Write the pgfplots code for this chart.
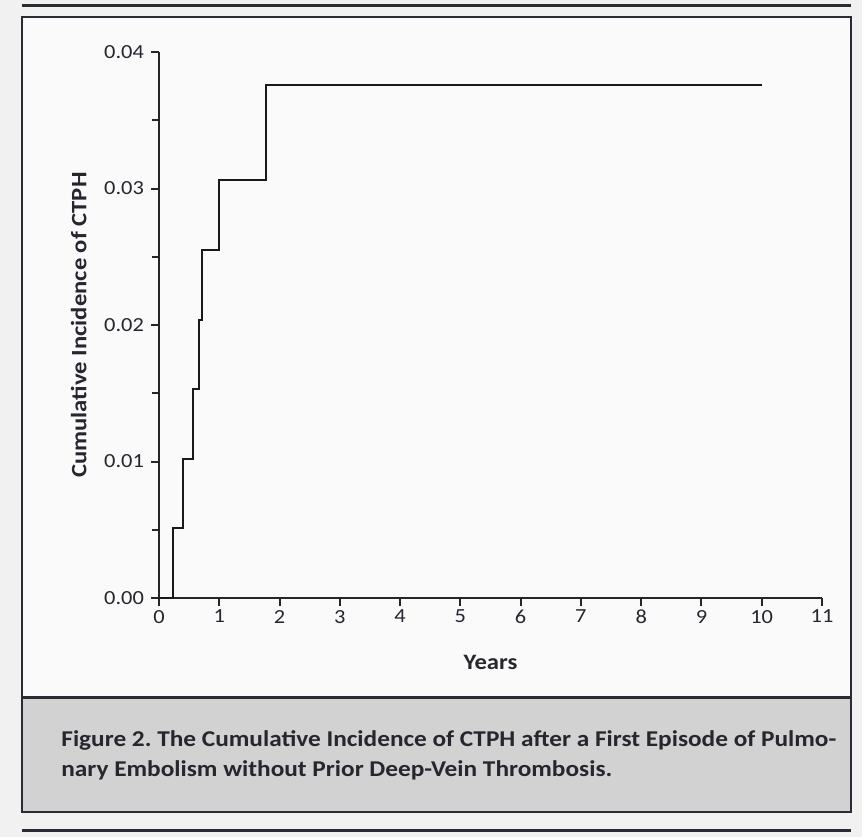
\documentclass[border=0pt]{standalone}
\usepackage{fontspec}
\setmainfont[FakeStretch=1.12]{Carlito}
\usepackage{pgfplots}
\pgfplotsset{compat=1.18}
\definecolor{paper}{HTML}{F1F1F1}
\definecolor{inner}{HTML}{FAFAFA}
\definecolor{capbg}{HTML}{D2D2D2}
\definecolor{rule}{HTML}{2B2B33}
\definecolor{ink}{HTML}{26262E}
\frenchspacing
\begin{document}
\begin{tikzpicture}
\begin{scope}[x=0.5pt,y=-0.5pt]
\useasboundingbox (0,0) rectangle (862,837);
\fill[paper] (0,0) rectangle (862,837);
\fill[inner] (22,17) rectangle (851,697);
\fill[capbg] (22,697) rectangle (851,812);
\draw[rule, line width=1.5pt] (22,5) -- (851,5);
\draw[rule, line width=1pt] (22,17) rectangle (851,812);
\draw[rule, line width=1.5pt] (22,697) -- (851,697);
\draw[rule, line width=1.5pt] (22,830) -- (851,830);
\node[anchor=base west, text=ink, font=\bfseries\fontsize{11.3}{14}\selectfont, inner sep=0pt] at (61,746) {Figure 2. The Cumulative Incidence of CTPH after a First Episode of Pulmo-};
\node[anchor=base west, text=ink, font=\bfseries\fontsize{11.3}{14}\selectfont, inner sep=0pt] at (61,776) {nary Embolism without Prior Deep-Vein Thrombosis.};
\end{scope}
\begin{axis}[
  at={(79.5pt,-299pt)}, anchor=south west,
  scale only axis, width=331.5pt, height=273pt,
  xmin=0, xmax=11, ymin=0, ymax=0.04,
  axis x line*=bottom, axis y line*=left,
  axis line style={-, line width=1pt, black!85},
  xtick={0,1,...,11},
  ytick={0,0.01,0.02,0.03,0.04},
  minor y tick num=1,
  tick align=outside,
  major tick length=4pt, minor tick length=3.5pt,
  tick style={line width=1pt, black!85},
  /pgf/number format/assume math mode=true,
  yticklabel style={/pgf/number format/.cd, fixed, fixed zerofill, precision=2},
  xticklabel style={yshift=1.5pt},
  scaled y ticks=false,
  tick label style={font=\fontsize{10}{12}\selectfont, text=ink},
  xlabel={\textbf{Years}},
  ylabel={\textbf{Cumulative Incidence of CTPH}},
  label style={font=\fontsize{11}{13}\selectfont, text=ink},
  xlabel style={yshift=-9pt},
  ylabel style={yshift=2pt},
]
\addplot[const plot, line width=1pt, black!90] coordinates {
  (0,0) (0.23,0.0051) (0.40,0.0102) (0.56,0.0153) (0.66,0.0204)
  (0.71,0.0255) (0.99,0.0306) (1.77,0.0376) (10.0,0.0376)
};
\end{axis}
\end{tikzpicture}
\end{document}
